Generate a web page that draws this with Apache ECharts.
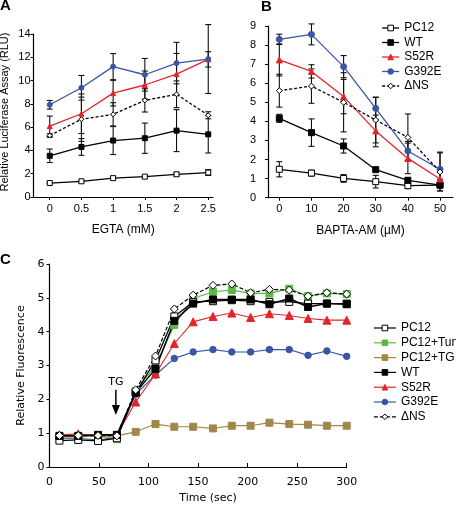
<!DOCTYPE html>
<html><head><meta charset="utf-8">
<script src="https://cdn.jsdelivr.net/npm/echarts@6/dist/echarts.min.js"></script>
<style>html,body{margin:0;padding:0;background:#fff}#c{width:456px;height:508px}</style>
</head><body><div id="c"></div>
<script>
// ---------- DATA ----------
const namesAB = ['PC12', 'WT', 'S52R', 'G392E', 'ΔNS'];
const namesC = ['PC12', 'PC12+Tun', 'PC12+TG', 'WT', 'S52R', 'G392E', 'ΔNS'];

// Panel A: EGTA (mM)
const egta = [0, 0.5, 1, 1.5, 2, 2.5];
const egtaTicks = [0, 0.5, 1, 1.5, 2, 2.5];
const A_PC12  = [1.20, 1.35, 1.62, 1.75, 1.95, 2.10];
const A_WT    = [3.54, 4.30, 4.85, 5.05, 5.70, 5.38];
const A_S52R  = [6.08, 7.15, 8.92, 9.62, 10.55, 11.82];
const A_G392E = [7.92, 9.38, 11.20, 10.50, 11.50, 11.85];
const A_dNS   = [5.28, 6.68, 7.10, 8.30, 8.82, 7.02];
const A_PC12_err  = [0.05, 0.06, 0.06, 0.06, 0.15, 0.25];
const A_WT_err    = [0.58, 0.72, 1.20, 1.30, 1.80, 1.60];
const A_S52R_err  = [0.87, 1.70, 1.10, 1.20, 1.78, 0.66];
const A_G392E_err = [0.37, 1.06, 1.12, 1.40, 1.78, 2.96];
const A_dNS_err   = [0.15, 1.90, 1.00, 1.00, 1.15, 0.30];

// Panel B: BAPTA-AM (µM)
const bapta = [0, 10, 20, 30, 40, 50];
const baptaTicks = [0, 10, 20, 30, 40, 50];
const B_PC12  = [1.49, 1.29, 1.01, 0.84, 0.63, 0.66];
const B_WT    = [4.16, 3.41, 2.71, 1.47, 0.91, 0.66];
const B_S52R  = [7.22, 6.62, 5.30, 3.50, 2.06, 0.98];
const B_G392E = [8.30, 8.56, 6.87, 4.68, 2.45, 1.49];
const B_dNS   = [5.61, 5.85, 5.00, 4.07, 3.16, 1.35];
const B_PC12_err  = [0.40, 0.15, 0.20, 0.33, 0.15, 0.10];
const B_WT_err    = [0.21, 0.72, 0.37, 0.08, 0.15, 0.30];
const B_S52R_err  = [0.84, 0.35, 0.90, 0.83, 0.80, 0.35];
const B_G392E_err = [0.27, 0.55, 0.58, 0.58, 0.50, 0.90];
const B_dNS_err   = [0.86, 0.90, 1.55, 1.20, 1.23, 1.00];

// Panel C: Time (sec)
const timeSec = [10, 29, 49, 68, 87, 107, 126, 145, 165, 184, 203, 222, 242, 261, 280, 300];
const C_PC12   = [0.78, 0.80, 0.77, 0.85, 2.20, 3.15, 4.45, 4.88, 4.90, 4.93, 4.90, 4.88, 4.88, 4.83, 4.83, 4.83];
const C_Tun    = [0.90, 0.90, 0.92, 0.82, 2.25, 3.00, 4.20, 4.98, 5.18, 5.23, 5.13, 5.13, 5.27, 5.05, 5.13, 5.11];
const C_TG     = [0.90, 0.90, 0.93, 0.92, 1.04, 1.27, 1.19, 1.19, 1.14, 1.22, 1.22, 1.31, 1.27, 1.25, 1.22, 1.22];
const C_WT     = [0.92, 0.92, 0.95, 0.95, 2.20, 2.90, 4.32, 4.83, 4.95, 4.95, 4.95, 4.81, 4.98, 4.73, 4.83, 4.81];
const C_S52R   = [0.95, 0.98, 0.92, 0.95, 1.92, 2.75, 3.65, 4.29, 4.45, 4.55, 4.42, 4.53, 4.48, 4.39, 4.34, 4.34];
const C_G392E  = [0.85, 0.85, 0.80, 0.88, 2.15, 2.72, 3.21, 3.40, 3.47, 3.40, 3.40, 3.47, 3.47, 3.30, 3.43, 3.27];
const C_dNS    = [0.93, 0.93, 0.93, 0.92, 2.28, 3.28, 4.67, 5.08, 5.37, 5.41, 5.15, 5.25, 5.23, 5.05, 5.15, 5.11];
const tgArrow = [[67, 2.28, 1.54]]; // time, start value, tip value
const tgLabel = 'TG';

// ---------- STYLES ----------
const RED = '#e3242b', BLUE = '#3a55a4', GREEN = '#5cb846', BROWN = '#a3864a';
const styleAB = {
  'PC12':  {symbol: 'rect', fill: '#fff', stroke: '#000', line: '#000', dash: 'solid'},
  'WT':    {symbol: 'rect', fill: '#000', stroke: '#000', line: '#000', dash: 'solid'},
  'S52R':  {symbol: 'triangle', fill: RED, stroke: RED, line: RED, dash: 'solid'},
  'G392E': {symbol: 'circle', fill: BLUE, stroke: BLUE, line: BLUE, dash: 'solid'},
  'ΔNS':   {symbol: 'diamond', fill: '#fff', stroke: '#000', line: '#000', dash: [3, 2]}
};
const styleC = {
  'PC12':     {symbol: 'rect', fill: '#fff', stroke: '#000', line: '#000', dash: 'solid', size: 7, lw: 1.3},
  'PC12+Tun': {symbol: 'rect', fill: GREEN, stroke: GREEN, line: GREEN, dash: 'solid', size: 7, lw: 1.2},
  'PC12+TG':  {symbol: 'rect', fill: BROWN, stroke: BROWN, line: BROWN, dash: 'solid', size: 7, lw: 1.2},
  'WT':       {symbol: 'rect', fill: '#000', stroke: '#000', line: '#000', dash: 'solid', size: 7, lw: 1.5},
  'S52R':     {symbol: 'triangle', fill: RED, stroke: RED, line: RED, dash: 'solid', size: 8, lw: 1.1},
  'G392E':    {symbol: 'circle', fill: BLUE, stroke: BLUE, line: BLUE, dash: 'solid', size: 6.5, lw: 1.1},
  'ΔNS':      {symbol: 'diamond', fill: '#fff', stroke: '#000', line: '#000', dash: [4, 2], size: 8, lw: 1.2}
};

const ARIAL = '"Liberation Sans", Arial, sans-serif';
const VERD = '"DejaVu Sans", Verdana, sans-serif';

function lineSeries(name, xs, ys, idx, st, size, lw) {
  return {
    type: 'line', name: name, xAxisIndex: idx, yAxisIndex: idx,
    data: xs.map((x, i) => [x, ys[i]]),
    symbol: st.symbol, symbolSize: size, showAllSymbol: true,
    itemStyle: {color: st.fill, borderColor: st.stroke, borderWidth: 1},
    lineStyle: {color: st.line, width: lw, type: st.dash},
    emphasis: {disabled: true}, silent: true, z: 3
  };
}
function errRender(params, api) {
  const x = api.value(0), lo = api.value(1), hi = api.value(2);
  const t = api.coord([x, hi]), b = api.coord([x, lo]);
  const hw = 3;
  const st = {stroke: '#111', lineWidth: 1.1};
  return {type: 'group', children: [
    {type: 'line', shape: {x1: t[0], y1: t[1], x2: b[0], y2: b[1]}, style: st},
    {type: 'line', shape: {x1: t[0] - hw, y1: t[1], x2: t[0] + hw, y2: t[1]}, style: st},
    {type: 'line', shape: {x1: b[0] - hw, y1: b[1], x2: b[0] + hw, y2: b[1]}, style: st}
  ]};
}
function errSeries(xs, ys, es, idx) {
  return {
    type: 'custom', xAxisIndex: idx, yAxisIndex: idx, silent: true, z: 2,
    renderItem: errRender, encode: {x: 0, y: [1, 2]},
    data: xs.map((x, i) => [x, ys[i] - es[i], ys[i] + es[i]])
  };
}
function arrowRender(params, api) {
  const p = api.coord([api.value(0), api.value(1)]);
  const q = api.coord([api.value(0), api.value(2)]);
  return {type: 'group', children: [
    {type: 'line', shape: {x1: p[0], y1: p[1], x2: q[0], y2: q[1] - 8}, style: {stroke: '#000', lineWidth: 1.5}},
    {type: 'polygon', shape: {points: [[q[0] - 4, q[1] - 10], [q[0] + 4, q[1] - 10], [q[0], q[1]]]}, style: {fill: '#000'}},
    {type: 'text', x: p[0], y: p[1] - 2, style: {text: tgLabel, font: '11px ' + VERD, fill: '#000', align: 'center', verticalAlign: 'bottom'}}
  ]};
}

const series = [];
const A_vals = [A_PC12, A_WT, A_S52R, A_G392E, A_dNS];
const A_errs = [A_PC12_err, A_WT_err, A_S52R_err, A_G392E_err, A_dNS_err];
const B_vals = [B_PC12, B_WT, B_S52R, B_G392E, B_dNS];
const B_errs = [B_PC12_err, B_WT_err, B_S52R_err, B_G392E_err, B_dNS_err];
namesAB.forEach((n, k) => series.push(errSeries(egta, A_vals[k], A_errs[k], 0)));
namesAB.forEach((n, k) => series.push(lineSeries('A:' + n, egta, A_vals[k], 0, styleAB[n], 5, 1.3)));
namesAB.forEach((n, k) => series.push(errSeries(bapta, B_vals[k], B_errs[k], 1)));
namesAB.forEach((n, k) => series.push(lineSeries(n, bapta, B_vals[k], 1, styleAB[n], 6, 1.3)));
const C_vals = [C_PC12, C_Tun, C_TG, C_WT, C_S52R, C_G392E, C_dNS];
const cOrder = [2, 5, 4, 1, 0, 3, 6];
cOrder.forEach(k => {
  const n = namesC[k], st = styleC[n];
  series.push(lineSeries('C:' + n, timeSec, C_vals[k], 2, st, st.size, st.lw));
});
series.push({
  type: 'custom', xAxisIndex: 2, yAxisIndex: 2, silent: true, z: 5,
  renderItem: arrowRender, encode: {x: 0, y: [1, 2]}, data: tgArrow
});

function axisCommon() {
  return {
    axisLine: {show: true, onZero: false, lineStyle: {color: '#000', width: 1.2}},
    splitLine: {show: false}
  };
}

const option = {
  animation: false,
  backgroundColor: '#fff',
  grid: [
    {left: 33.5, top: 34, width: 179.5, height: 163, outerBoundsMode: 'none', containLabel: false},
    {left: 268, top: 26, width: 185, height: 171.7, outerBoundsMode: 'none', containLabel: false},
    {left: 49.5, top: 264, width: 297.2, height: 203, outerBoundsMode: 'none', containLabel: false}
  ],
  xAxis: [
    Object.assign(axisCommon(), {
      gridIndex: 0, type: 'value', min: -0.256, max: 2.575,
      name: 'EGTA (mM)', nameLocation: 'middle', nameGap: 27,
      nameTextStyle: {color: '#000', fontFamily: ARIAL, fontSize: 12},
      axisTick: {show: true, inside: false, length: 3, customValues: egtaTicks, lineStyle: {color: '#000'}},
      axisLabel: {color: '#000', fontFamily: ARIAL, fontSize: 11, margin: 6, customValues: egtaTicks}
    }),
    Object.assign(axisCommon(), {
      gridIndex: 1, type: 'value', min: -3.52, max: 54.04,
      name: 'BAPTA-AM (µM)', nameLocation: 'middle', nameGap: 27,
      nameTextStyle: {color: '#000', fontFamily: ARIAL, fontSize: 12},
      axisTick: {show: true, inside: false, length: 3, customValues: baptaTicks, lineStyle: {color: '#000'}},
      axisLabel: {color: '#000', fontFamily: ARIAL, fontSize: 11, margin: 6, customValues: baptaTicks}
    }),
    Object.assign(axisCommon(), {
      gridIndex: 2, type: 'value', min: 0, max: 300, interval: 50,
      name: 'Time (sec)', nameLocation: 'middle', nameGap: 26,
      nameTextStyle: {color: '#000', fontFamily: VERD, fontSize: 11, padding: [0, 0, 0, 20]},
      axisTick: {show: true, inside: true, length: 4, lineStyle: {color: '#000'}},
      axisLabel: {color: '#000', fontFamily: VERD, fontSize: 11, margin: 10}
    })
  ],
  yAxis: [
    Object.assign(axisCommon(), {
      gridIndex: 0, type: 'value', min: 0, max: 14, interval: 2,
      name: 'Relative Luciferase Assay (RLU)', nameLocation: 'middle', nameGap: 23,
      nameTextStyle: {color: '#000', fontFamily: ARIAL, fontSize: 11, padding: [0, 0, 0, 7]},
      axisTick: {show: true, inside: false, length: 3, lineStyle: {color: '#000'}},
      axisLabel: {color: '#000', fontFamily: ARIAL, fontSize: 11, margin: 3}
    }),
    Object.assign(axisCommon(), {
      gridIndex: 1, type: 'value', min: 0, max: 9, interval: 1,
      axisTick: {show: true, inside: false, length: 3, lineStyle: {color: '#000'}},
      axisLabel: {color: '#000', fontFamily: ARIAL, fontSize: 11, margin: 12}
    }),
    Object.assign(axisCommon(), {
      gridIndex: 2, type: 'value', min: 0, max: 6, interval: 1,
      name: 'Relative Fluorescence', nameLocation: 'middle', nameGap: 22,
      nameTextStyle: {color: '#000', fontFamily: VERD, fontSize: 11},
      axisTick: {show: true, inside: false, length: 3, lineStyle: {color: '#000'}},
      axisLabel: {color: '#000', fontFamily: VERD, fontSize: 11, margin: 5}
    })
  ],
  legend: [
    {
      data: namesAB, orient: 'vertical', left: 376.5, top: 17,
      itemWidth: 17, itemHeight: 7, itemGap: 2.5, selectedMode: false,
      itemStyle: {borderWidth: 1},
      lineStyle: {width: 1.3},
      textStyle: {color: '#000', fontFamily: ARIAL, fontSize: 12}
    },
    {
      data: namesC.map(n => 'C:' + n), orient: 'vertical', left: 368.3, top: 317,
      itemWidth: 22, itemHeight: 7, itemGap: 2.8, selectedMode: false,
      itemStyle: {borderWidth: 1},
      lineStyle: {width: 1.2},
      formatter: n => n.slice(2),
      textStyle: {color: '#000', fontFamily: ARIAL, fontSize: 12}
    }
  ],
  graphic: [
    {type: 'text', left: 0, top: -2, style: {text: 'A', font: 'bold 15px "Liberation Sans", Arial', fill: '#000'}},
    {type: 'text', left: 261, top: -1, style: {text: 'B', font: 'bold 15px "Liberation Sans", Arial', fill: '#000'}},
    {type: 'text', left: 0, top: 252, style: {text: 'C', font: 'bold 15px "Liberation Sans", Arial', fill: '#000'}}
  ],
  series: series
};

const chart = echarts.init(document.getElementById('c'), null, {renderer: 'canvas'});
chart.setOption(option);
</script>
</body></html>
